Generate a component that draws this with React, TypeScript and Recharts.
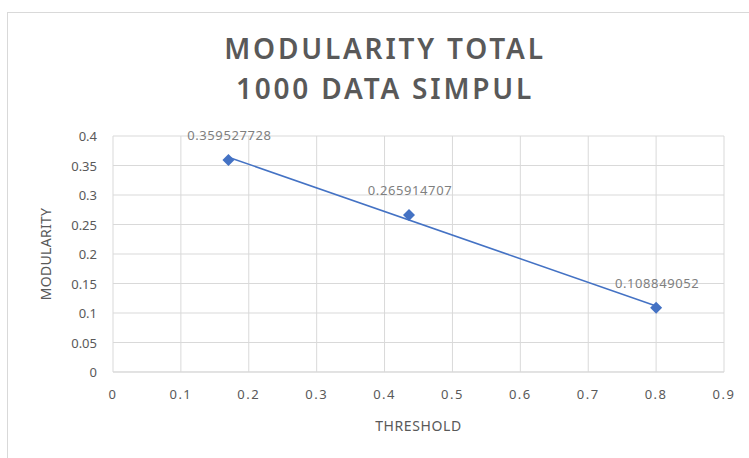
import { ScatterChart, Scatter, XAxis, YAxis, CartesianGrid, ReferenceLine, Label } from 'recharts';

const thresholds = [0.17, 0.436, 0.8];
const modularity = [0.359527728, 0.265914707, 0.108849052];
const xTicks = [0, 0.1, 0.2, 0.3, 0.4, 0.5, 0.6, 0.7, 0.8, 0.9];
const yTicks = [0, 0.05, 0.1, 0.15, 0.2, 0.25, 0.3, 0.35, 0.4];
// linear trendline ends
const trendStart = { x: 0.17, y: 0.364 };
const trendEnd = { x: 0.8, y: 0.112 };

const data = thresholds.map((x, i) => ({ x, y: modularity[i] }));

const TEXT = '#595959';
const BLUE = '#4472C4';
const FONT = "'Noto Sans', 'Open Sans', sans-serif";

function Point(props: any) {
  const { cx, cy, payload } = props;
  const r = 6;
  return (
    <g>
      <polygon
        points={`${cx},${cy - r} ${cx + r},${cy} ${cx},${cy + r} ${cx - r},${cy}`}
        fill={BLUE}
      />
      <text
        x={cx + 1}
        y={cy - 20}
        textAnchor="middle"
        fontSize={13}
        fill="#7f7f7f"
        fontFamily={FONT}
        letterSpacing={0.6}
      >
        {String(payload.y)}
      </text>
    </g>
  );
}

function XTick(props: any) {
  const { x, y, payload } = props;
  return (
    <text x={x} y={y + 19} textAnchor="middle" fontSize={13} fill={TEXT} fontFamily={FONT} letterSpacing={1.5}>
      {payload.value}
    </text>
  );
}

function YTick(props: any) {
  const { x, y, payload } = props;
  return (
    <text x={x - 8} y={y + 5} textAnchor="end" fontSize={13} fill={TEXT} fontFamily={FONT}>
      {payload.value}
    </text>
  );
}

export default function App() {
  return (
    <div style={{ position: 'absolute', left: 0, top: 0, width: 749, height: 458, background: '#fff', overflow: 'hidden' }}>
      <div
        style={{
          position: 'absolute',
          left: 7,
          top: 12,
          width: 800,
          height: 500,
          border: '1px solid #d9d9d9',
        }}
      />
      <div
        style={{
          position: 'absolute',
          left: 0,
          top: 28,
          width: 770,
          textAlign: 'center',
          fontFamily: FONT,
          fontWeight: 600,
          fontSize: 28,
          lineHeight: '40px',
          color: TEXT,
          letterSpacing: 2.8,
        }}
      >
        MODULARITY TOTAL
        <br />
        1000 DATA SIMPUL
      </div>
      <div style={{ position: 'absolute', left: 0, top: 0 }}>
        <ScatterChart width={749} height={458} margin={{ top: 136, right: 25, bottom: 0, left: 0 }}>
          <CartesianGrid stroke="#d9d9d9" strokeWidth={1} horizontalValues={yTicks} verticalValues={xTicks} />
          <XAxis
            type="number"
            dataKey="x"
            domain={[0, 0.9]}
            ticks={xTicks}
            height={86}
            axisLine={{ stroke: '#d9d9d9' }}
            tickLine={false}
            tick={<XTick />}
            interval={0}
          >
            <Label
              value="THRESHOLD"
              position="insideBottom"
              offset={27}
              fontSize={14}
              fill={TEXT}
              fontFamily={FONT}
              letterSpacing={0.6}
            />
          </XAxis>
          <YAxis
            type="number"
            dataKey="y"
            domain={[0, 0.4]}
            ticks={yTicks}
            width={113}
            axisLine={false}
            tickLine={false}
            tick={<YTick />}
            interval={0}
          >
            <Label
              value="MODULARITY"
              angle={-90}
              position="insideLeft"
              offset={46}
              fontSize={14}
              fill={TEXT}
              fontFamily={FONT}
              letterSpacing={0.3}
              style={{ textAnchor: 'middle' }}
            />
          </YAxis>
          <ReferenceLine
            segment={[trendStart, trendEnd]}
            stroke={BLUE}
            strokeWidth={1.5}
            ifOverflow="visible"
          />
          <Scatter data={data} shape={<Point />} isAnimationActive={false} />
        </ScatterChart>
      </div>
    </div>
  );
}
